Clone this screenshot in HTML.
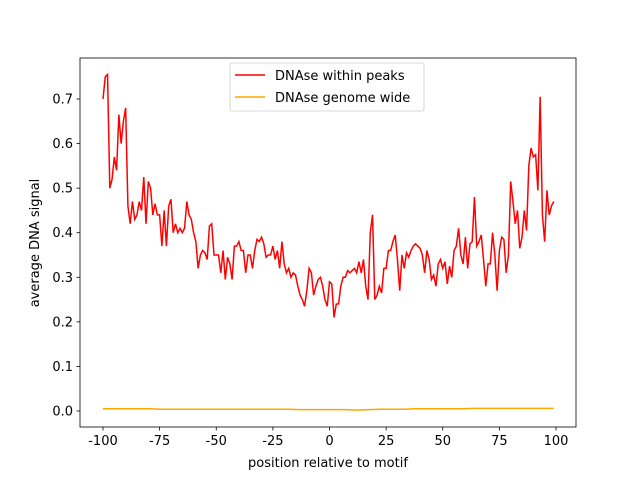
<!DOCTYPE html>
<html><head><meta charset="utf-8"><style>
body{margin:0;background:#fff}
svg text{font-family:"DejaVu Sans","Liberation Sans",sans-serif;fill:#000}
</style></head><body>
<svg id="chart" width="640" height="480" xmlns="http://www.w3.org/2000/svg">
<rect width="640" height="480" fill="#fff"/>
<g id="axes"></g>
</svg>
<script>
const peaks=[0.70,0.75,0.755,0.50,0.52,0.57,0.54,0.665,0.60,0.65,0.68,0.46,0.42,0.47,0.43,0.44,0.47,0.45,0.525,0.42,0.515,0.50,0.44,0.465,0.44,0.44,0.37,0.45,0.37,0.46,0.475,0.40,0.42,0.40,0.41,0.40,0.41,0.47,0.44,0.43,0.40,0.38,0.32,0.35,0.36,0.355,0.34,0.415,0.42,0.35,0.35,0.35,0.31,0.36,0.295,0.345,0.33,0.295,0.37,0.37,0.38,0.36,0.36,0.31,0.35,0.35,0.32,0.36,0.385,0.38,0.39,0.375,0.345,0.35,0.35,0.37,0.34,0.36,0.32,0.38,0.33,0.31,0.32,0.30,0.31,0.305,0.28,0.26,0.25,0.235,0.27,0.32,0.31,0.26,0.28,0.295,0.30,0.28,0.25,0.235,0.29,0.285,0.21,0.24,0.24,0.28,0.30,0.30,0.315,0.31,0.315,0.32,0.31,0.335,0.31,0.34,0.28,0.25,0.40,0.44,0.25,0.26,0.28,0.265,0.32,0.32,0.36,0.36,0.38,0.395,0.34,0.27,0.35,0.32,0.355,0.345,0.36,0.37,0.375,0.37,0.365,0.35,0.31,0.36,0.34,0.295,0.305,0.28,0.33,0.34,0.32,0.335,0.285,0.325,0.30,0.36,0.37,0.41,0.35,0.33,0.39,0.32,0.375,0.38,0.48,0.37,0.38,0.395,0.34,0.28,0.33,0.33,0.40,0.35,0.27,0.36,0.39,0.385,0.31,0.35,0.515,0.47,0.42,0.45,0.365,0.39,0.45,0.405,0.55,0.59,0.57,0.575,0.495,0.705,0.44,0.38,0.495,0.44,0.46,0.47];
const genome=[0.005,0.005,0.005,0.005,0.005,0.004,0.004,0.004,0.004,0.004,0.004,0.004,0.004,0.004,0.004,0.004,0.004,0.003,0.003,0.003,0.003,0.003,0.002,0.003,0.004,0.004,0.004,0.005,0.005,0.005,0.005,0.005,0.006,0.006,0.006,0.006,0.006,0.006,0.006,0.006];
const xTicks=[-100,-75,-50,-25,0,25,50,75,100];
const yTicks=[0.0,0.1,0.2,0.3,0.4,0.5,0.6,0.7];
const L=80,R=576,T=58,B=427;
const X=v=>103+(v+100)*(556-103)/200;
const Y=v=>411-v*(411-99)/0.7;
const NS="http://www.w3.org/2000/svg";
const g=document.getElementById('axes');
function mk(t,a,p){const e=document.createElementNS(NS,t);for(const k in a)e.setAttribute(k,a[k]);(p||g).appendChild(e);return e;}
let d=peaks.map((v,i)=>(i?'L':'M')+X(-100+i).toFixed(2)+','+Y(v).toFixed(2)).join('');
let p1=mk('path',{d:d,fill:'none',stroke:'#ff0000','stroke-width':1.5});


const step=199/(genome.length-1);
d=genome.map((v,i)=>(i?'L':'M')+X(-100+i*step).toFixed(2)+','+Y(v).toFixed(2)).join('');
let p2=mk('path',{d:d,fill:'none',stroke:'#ffa500','stroke-width':1.5});


let fr=mk('rect',{x:L,y:T,width:R-L,height:B-T,fill:'none',stroke:'#000','stroke-width':0.8});


xTicks.forEach(v=>{const x=X(v);mk('line',{x1:x,x2:x,y1:B,y2:B+3.5,stroke:'#000','stroke-width':0.8});
const t=mk('text',{x:x,y:B+18,'text-anchor':'middle','font-size':13});t.textContent=v;

});
yTicks.forEach(v=>{const y=Y(v);mk('line',{x1:L-3.5,x2:L,y1:y,y2:y,stroke:'#000','stroke-width':0.8});
const t=mk('text',{x:L-7,y:y+4.5,'text-anchor':'end','font-size':13});t.textContent=v.toFixed(1);

});
let xt=mk('text',{x:328,y:467,'text-anchor':'middle','font-size':13});xt.textContent='position relative to motif';


let yt=mk('text',{x:0,y:0,'text-anchor':'middle','font-size':13,transform:'translate(39,243) rotate(-90)'});yt.textContent='average DNA signal';


let lg=mk('g',{});


mk('rect',{x:230,y:63,width:194,height:48,rx:2,fill:'#fff','fill-opacity':0.8,stroke:'#ccc','stroke-width':0.8},lg);
mk('line',{x1:235,x2:265,y1:75,y2:75,stroke:'#ff0000','stroke-width':1.5},lg);
mk('line',{x1:235,x2:265,y1:97,y2:97,stroke:'#ffa500','stroke-width':1.5},lg);
let l1=mk('text',{x:275,y:80,'font-size':13},lg);l1.textContent='DNAse within peaks';


let l2=mk('text',{x:275,y:102,'font-size':13},lg);l2.textContent='DNAse genome wide';


</script>
</body></html>
